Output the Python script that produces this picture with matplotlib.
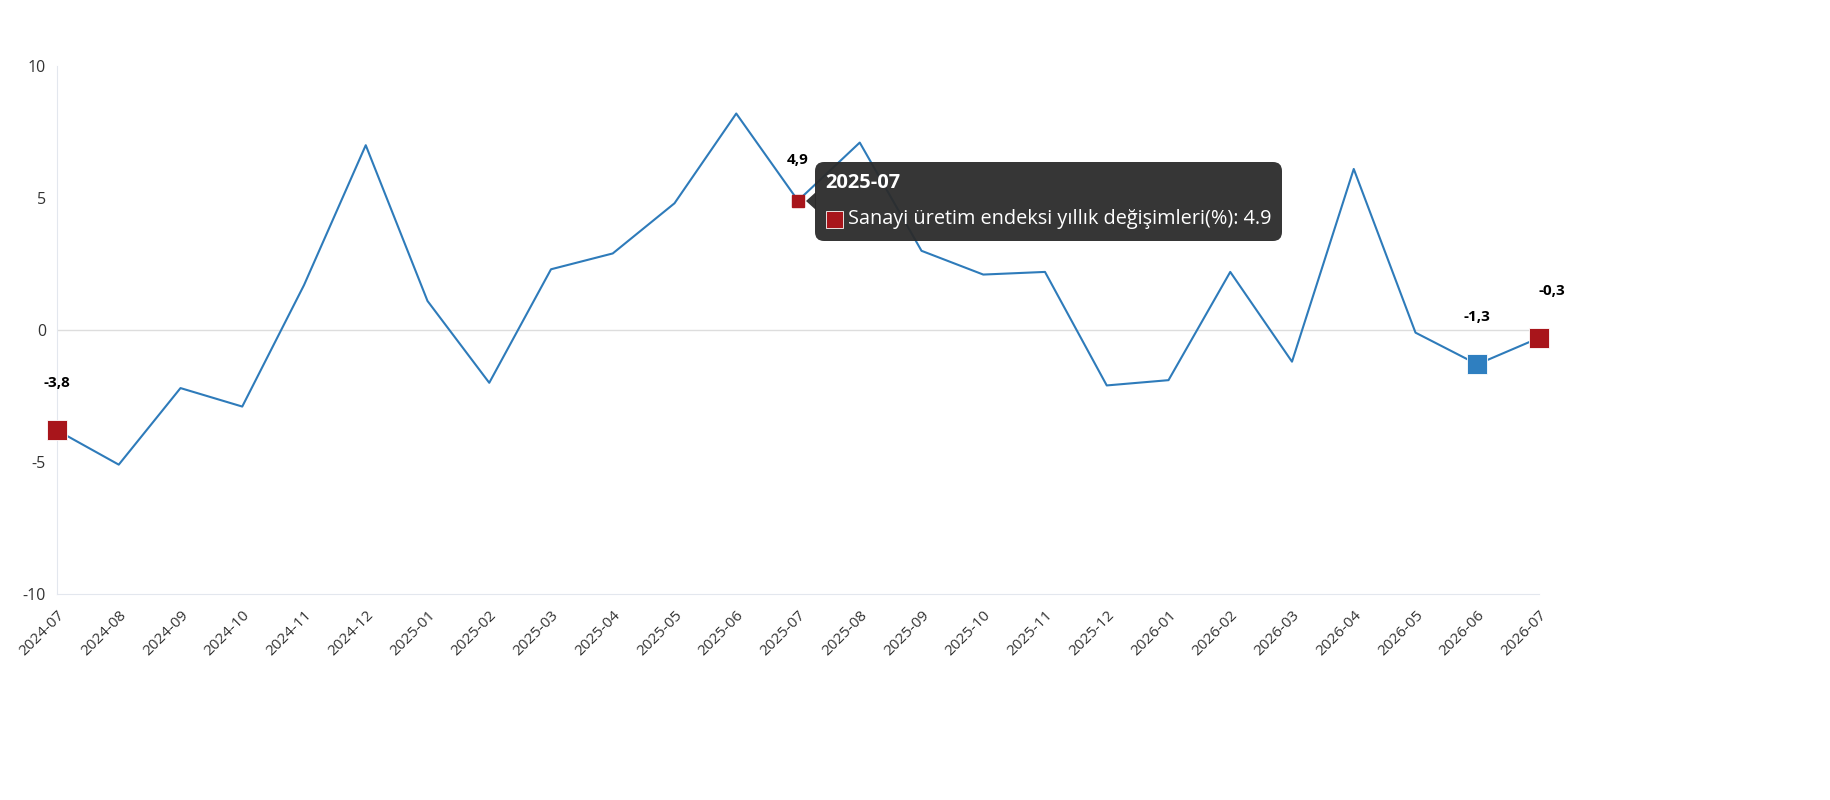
import numpy as np
import matplotlib.pyplot as plt
from matplotlib.patches import FancyBboxPatch, Rectangle, Polygon
from matplotlib.transforms import IdentityTransform

# monthly data
months = ['2024-07', '2024-08', '2024-09', '2024-10', '2024-11', '2024-12',
          '2025-01', '2025-02', '2025-03', '2025-04', '2025-05', '2025-06',
          '2025-07', '2025-08', '2025-09', '2025-10', '2025-11', '2025-12',
          '2026-01', '2026-02', '2026-03', '2026-04', '2026-05', '2026-06',
          '2026-07']
values = [-3.8, -5.1, -2.2, -2.9, 1.7, 7.0,
          1.1, -2.0, 2.3, 2.9, 4.8, 8.2,
          4.9, 7.1, 3.0, 2.1, 2.2, -2.1,
          -1.9, 2.2, -1.2, 6.1, -0.1, -1.3,
          -0.3]
series_name = 'Sanayi üretim endeksi yıllık değişimleri(%)'
hover_idx = 12

plt.rcParams['font.family'] = ['Open Sans', 'DejaVu Sans']

W, H = 1830, 800
fig = plt.figure(figsize=(W / 100, H / 100), dpi=100)
ax = fig.add_axes([57 / W, 1 - 594 / H, (1539 - 57) / W, (594 - 66) / H])

x = np.arange(len(months))
line_c = '#2e7bba'
red = '#a8151b'
ax.plot(x, values, color=line_c, lw=1.5, zorder=3)

# highlighted markers: first, last, last-but-one, hovered
ax.plot(x[0], values[0], 's', ms=15, color=red, mec='white', mew=0.6, zorder=4, clip_on=False)
ax.plot(x[-1], values[-1], 's', ms=15, color=red, mec='white', mew=0.6, zorder=4, clip_on=False)
ax.plot(x[-2], values[-2], 's', ms=15, color='#2f7fc0', mec='white', mew=0.6, zorder=4, clip_on=False)
ax.plot(x[hover_idx], values[hover_idx], 's', ms=8, color=red, zorder=4)

def lab(v):
    return f'{v:.1f}'.replace('.', ',')

for i, dx in [(0, 0), (hover_idx, 0), (len(x) - 2, 0), (len(x) - 1, 9)]:
    off = 24 if i == hover_idx else 29
    ax.annotate(lab(values[i]), (x[i], values[i]), xytext=(dx, off),
                textcoords='offset points', ha='center', va='bottom',
                fontsize=11, fontweight='bold', color='black', zorder=5,
                annotation_clip=False)

ax.set_xlim(0, len(x) - 1)
ax.set_ylim(-10, 10)
ax.set_yticks([-10, -5, 0, 5, 10])
ax.set_yticklabels(['-10', '-5', '0', '5', '10'], fontsize=11.5, color='#333333')
ax.set_xticks(x)
ax.set_xticklabels(months, rotation=45, ha='right', rotation_mode='anchor',
                   fontsize=11, color='#333333')
ax.tick_params(length=0, pad=8)
ax.tick_params(axis='x', pad=10)
ax.axhline(0, color='#dddddd', lw=1, zorder=1)
for s in ['top', 'right']:
    ax.spines[s].set_visible(False)
ax.spines['left'].set_color('#e3e7ee')
ax.spines['bottom'].set_color('#e3e7ee')

# tooltip, in pixel coordinates (y measured from top)
pix = IdentityTransform()

def py(v):
    return H - v

box = FancyBboxPatch((815, py(241)), 1282 - 815, 241 - 162,
                     boxstyle='round,pad=0,rounding_size=9',
                     transform=pix, facecolor='#2b2b2b',
                     edgecolor='none', alpha=0.95, zorder=10)
fig.patches.append(box)
tri = Polygon([(806, py(201)), (816, py(192)), (816, py(210))],
              closed=True, transform=pix, facecolor='#2b2b2b',
              edgecolor='none', alpha=0.95, zorder=10)
fig.patches.append(tri)
fig.text(825, py(183), months[hover_idx], fontsize=14.5, fontweight='bold',
         color='white', va='center', ha='left', zorder=11, transform=pix)
sq = Rectangle((826, py(228)), 17, 17, transform=pix, facecolor=red,
               edgecolor='white', lw=0.6, zorder=11)
fig.patches.append(sq)
fig.text(848, py(219), f'{series_name}: {values[hover_idx]}', fontsize=14.3,
         color='white', va='center', ha='left', zorder=11, transform=pix)

fig.savefig('out.png', dpi=100)
